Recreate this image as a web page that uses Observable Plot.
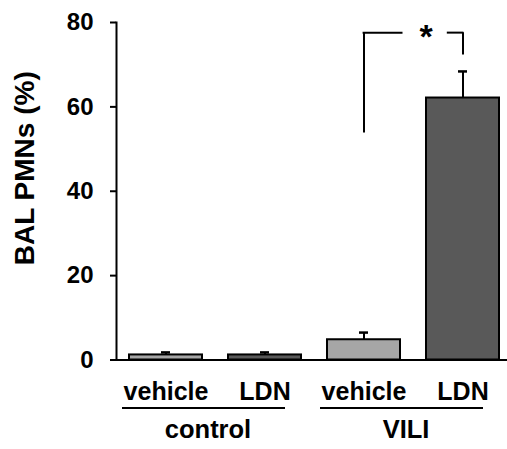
<!DOCTYPE html>
<html>
<head>
<meta charset="utf-8">
<script src="https://cdn.jsdelivr.net/npm/d3@7"></script>
<script src="https://cdn.jsdelivr.net/npm/@observablehq/plot@0.6"></script>
<style>
  html, body { margin: 0; padding: 0; background: #fff; }
  #chart { width: 507px; height: 449px; }
</style>
</head>
<body>
<div id="chart"></div>
<script>
// ---- data ----
const groups = ["control", "VILI"];
const treatments = ["vehicle", "LDN"];
const means = [1.2, 1.2, 4.8, 62.1];   // control-vehicle, control-LDN, VILI-vehicle, VILI-LDN
const errors = [0.6, 0.6, 1.7, 6.3];
const yTicks = [0, 20, 40, 60, 80];
const yTitle = "BAL PMNs (%)";
const sigLabel = "*";
const sigBracket = {from: "VILI|vehicle", to: "VILI|LDN", leftBottom: 53.8, rightBottom: 72.3, top: 77.6};
const barColors = ["#a6a6a6", "#595959"];

// ---- build table ----
const rows = [];
groups.forEach((g, gi) => treatments.forEach((t, ti) => {
  const i = gi * treatments.length + ti;
  rows.push({key: `${g}|${t}`, group: g, treatment: t, mean: means[i], err: errors[i]});
}));
const keys = rows.map(d => d.key);
const groupRows = groups.map(g => ({group: g, first: `${g}|${treatments[0]}`, last: `${g}|${treatments[treatments.length - 1]}`}));

const font = "'Liberation Sans', Arial, Helvetica, sans-serif";

const chart = Plot.plot({
  width: 507,
  height: 449,
  marginTop: 22,
  marginBottom: 89.5,
  marginLeft: 116,
  marginRight: 0,
  style: {fontFamily: font, fontWeight: "bold", color: "#000", background: "#fff", overflow: "visible"},
  x: {domain: keys, range: [116, 512], paddingInner: 0.26, paddingOuter: 0.13, axis: null},
  y: {domain: [0, 80], axis: null},
  color: {domain: treatments, range: barColors},
  marks: [
    // y axis
    Plot.axisY({ticks: yTicks, tickSize: 6, tickPadding: 17, fontSize: 24, fontWeight: "bold", label: null, strokeWidth: 2}),
    Plot.frame({anchor: "left", strokeWidth: 2}),
    Plot.text([yTitle], {frameAnchor: "left", text: d => d, rotate: -90, textAnchor: "middle", lineAnchor: "middle", dx: -91, dy: -23, fontSize: 28, fontWeight: "bold", fill: "#000"}),
    // bars
    Plot.barY(rows, {x: "key", y: "mean", fill: "treatment", stroke: "#000", strokeWidth: 2}),
    // error bars
    Plot.ruleX(rows, {x: "key", y1: "mean", y2: d => d.mean + d.err, stroke: "#000", strokeWidth: 2}),
    Plot.tickY(rows, {x: "key", y: d => d.mean + d.err, stroke: "#000", strokeWidth: 2.5, insetLeft: 32, insetRight: 32}),
    // baseline
    Plot.ruleY([0], {stroke: "#000", strokeWidth: 2}),
    // x tick labels
    Plot.axisX({tickSize: 0, tickPadding: 22, tickFormat: k => k.split("|")[1], fontSize: 25, fontWeight: "bold", label: null}),
    // group underlines and labels
    Plot.ruleY(groupRows, {x1: "first", x2: "last", y: () => 0, dy: 48, insetLeft: -7, insetRight: 16, stroke: "#000", strokeWidth: 2}),
    Plot.text(groupRows, {x: "first", y: () => 0, text: "group", dx: 42, dy: 70, fontSize: 25.5, fontWeight: "bold", fill: "#000"}),
    // significance bracket
    Plot.ruleX([sigBracket], {x: "from", y1: "leftBottom", y2: "top", stroke: "#000", strokeWidth: 2}),
    Plot.ruleX([sigBracket], {x: "to", y1: "rightBottom", y2: "top", stroke: "#000", strokeWidth: 2}),
    Plot.ruleY([sigBracket], {x1: "from", x2: "from", y: "top", insetLeft: 35.6, insetRight: -2.5, stroke: "#000", strokeWidth: 2}),
    Plot.ruleY([sigBracket], {x1: "to", x2: "to", y: "top", insetLeft: 20.8, insetRight: 35.6, stroke: "#000", strokeWidth: 2}),
    Plot.text([sigBracket], {x: "to", y: "top", text: () => sigLabel, dx: -37, dy: 4, fontSize: 34, fontWeight: "bold", fill: "#000"})
  ]
});
document.getElementById("chart").appendChild(chart);
</script>
</body>
</html>
